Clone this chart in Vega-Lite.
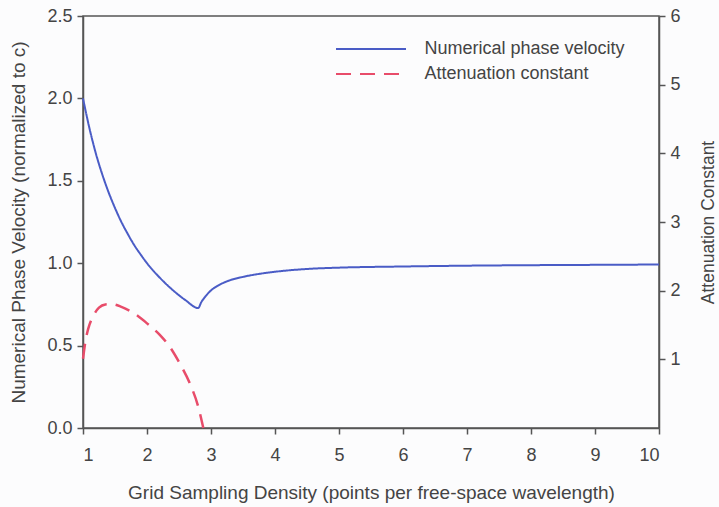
{
  "$schema": "https://vega.github.io/schema/vega-lite/v6.json",
  "width": 576,
  "height": 412,
  "autosize": {"type": "none"},
  "padding": {"left": 83, "top": 16, "right": 60, "bottom": 79},
  "background": "#fcfcfd",
  "config": {
    "font": "Liberation Sans",
    "view": {"stroke": "#555555", "strokeWidth": 1.5},
    "axis": {
      "grid": false,
      "domainColor": "#555555",
      "domainWidth": 1.5,
      "tickColor": "#555555",
      "tickWidth": 1.5,
      "tickSize": 6,
      "labelColor": "#444444",
      "titleColor": "#444444",
      "labelFont": "Liberation Sans",
      "titleFont": "Liberation Sans",
      "labelFontSize": 18,
      "titleFontSize": 19,
      "titleFontWeight": "normal"
    }
  },
  "datasets": {
    "vel": [
      {"N": 1.0, "v": 2.0},
      {"N": 1.1, "v": 1.82},
      {"N": 1.2, "v": 1.667},
      {"N": 1.3, "v": 1.54},
      {"N": 1.4, "v": 1.43},
      {"N": 1.5, "v": 1.335},
      {"N": 1.6, "v": 1.25},
      {"N": 1.7, "v": 1.177},
      {"N": 1.8, "v": 1.11},
      {"N": 1.9, "v": 1.053},
      {"N": 2.0, "v": 1.0},
      {"N": 2.2, "v": 0.912},
      {"N": 2.4, "v": 0.838},
      {"N": 2.6, "v": 0.776},
      {"N": 2.8, "v": 0.728},
      {"N": 2.85, "v": 0.765},
      {"N": 2.9, "v": 0.792},
      {"N": 3.0, "v": 0.835},
      {"N": 3.1, "v": 0.862},
      {"N": 3.25, "v": 0.89},
      {"N": 3.5, "v": 0.917},
      {"N": 3.75, "v": 0.935},
      {"N": 4.0, "v": 0.948},
      {"N": 4.5, "v": 0.965},
      {"N": 5.0, "v": 0.973},
      {"N": 6.0, "v": 0.98},
      {"N": 7.0, "v": 0.985},
      {"N": 8.0, "v": 0.988},
      {"N": 9.0, "v": 0.99},
      {"N": 10.0, "v": 0.992}
    ],
    "att": [
      {"N": 1.0, "a": 1.008},
      {"N": 1.04, "a": 1.272},
      {"N": 1.08, "a": 1.44},
      {"N": 1.16, "a": 1.632},
      {"N": 1.25, "a": 1.752},
      {"N": 1.35, "a": 1.8},
      {"N": 1.45, "a": 1.805},
      {"N": 1.6, "a": 1.764},
      {"N": 1.8, "a": 1.668},
      {"N": 2.0, "a": 1.524},
      {"N": 2.2, "a": 1.356},
      {"N": 2.36, "a": 1.176},
      {"N": 2.5, "a": 0.96},
      {"N": 2.67, "a": 0.648},
      {"N": 2.8, "a": 0.312},
      {"N": 2.88, "a": 0.0}
    ]
  },
  "layer": [
    {
      "data": {"name": "vel"},
      "transform": [{"calculate": "'Numerical phase velocity'", "as": "series"}],
      "mark": {"type": "line", "strokeWidth": 2, "interpolate": "monotone"},
      "encoding": {
        "x": {
          "field": "N", "type": "quantitative",
          "scale": {"domain": [1, 10], "nice": false, "zero": false},
          "axis": {"values": [1,2,3,4,5,6,7,8,9,10], "format": "d", "title": "Grid Sampling Density (points per free-space wavelength)", "labelPadding": 12, "titlePadding": 19}
        },
        "y": {
          "field": "v", "type": "quantitative",
          "scale": {"domain": [0, 2.5], "nice": false},
          "axis": {"values": [0, 0.5, 1, 1.5, 2, 2.5], "format": ".1f", "title": "Numerical Phase Velocity (normalized to c)", "labelPadding": 5, "titlePadding": 18}
        },
        "color": {
          "field": "series", "type": "nominal",
          "scale": {"domain": ["Numerical phase velocity", "Attenuation constant"], "range": ["#4a5cc6", "#e84c6a"]},
          "legend": {
            "title": null, "orient": "none", "legendX": 274.5, "legendY": 19.5,
            "symbolType": "M-2.8,0H2.8", "symbolSize": 625, "symbolStrokeWidth": 2,
            "labelFontSize": 18, "labelColor": "#444444", "labelFont": "Liberation Sans", "labelLimit": 400,
            "labelOffset": 40, "rowPadding": 2
          }
        },
        "strokeDash": {
          "field": "series", "type": "nominal",
          "scale": {"domain": ["Numerical phase velocity", "Attenuation constant"], "range": [[1, 0], [15, 9]]},
          "legend": {
            "title": null, "orient": "none", "legendX": 274.5, "legendY": 19.5,
            "symbolType": "M-2.8,0H2.8", "symbolSize": 625, "symbolStrokeWidth": 2,
            "labelFontSize": 18, "labelColor": "#444444", "labelFont": "Liberation Sans", "labelLimit": 400,
            "labelOffset": 40, "rowPadding": 2
          }
        }
      }
    },
    {
      "data": {"name": "att"},
      "transform": [{"calculate": "'Attenuation constant'", "as": "series"}],
      "mark": {"type": "line", "strokeWidth": 2.5, "interpolate": "monotone"},
      "encoding": {
        "x": {"field": "N", "type": "quantitative"},
        "y": {
          "field": "a", "type": "quantitative",
          "scale": {"domain": [0, 6], "nice": false},
          "axis": {"orient": "right", "values": [1,2,3,4,5,6], "title": "Attenuation Constant", "titleFontSize": 17.5, "titleAngle": 270, "titleBaseline": "top", "labelPadding": 5, "titlePadding": 19}
        },
        "color": {"field": "series", "type": "nominal"},
        "strokeDash": {"field": "series", "type": "nominal"}
      }
    }
  ],
  "resolve": {"scale": {"y": "independent"}}
}
